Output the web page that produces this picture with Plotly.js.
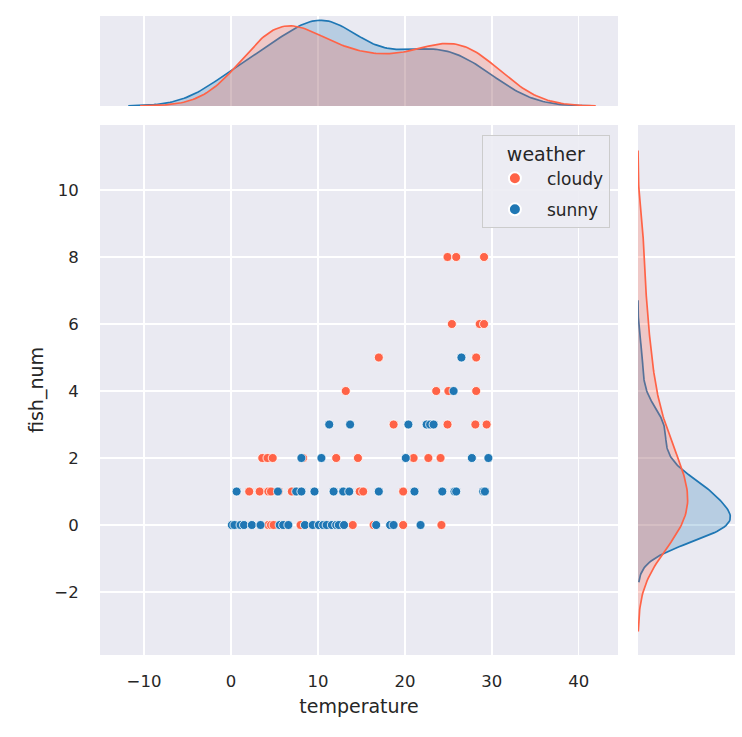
<!DOCTYPE html>
<html><head><meta charset="utf-8">
<script src="https://cdn.plot.ly/plotly-3.0.1.min.js"></script>
<style>body{margin:0;background:#fff}</style>
</head><body><div id="chart" style="width:742px;height:737px"></div>
<script>
const categories = ['cloudy', 'sunny'];
const colors = {cloudy: '#ff6347', sunny: '#1f77b4'};
const fills = {cloudy: 'rgba(255,99,71,0.25)', sunny: 'rgba(31,119,180,0.25)'};

const cloudyTemp = [4.3, 4.6, 4.9, 5.7, 6.2, 6.3, 8.0, 8.6, 9.5, 10.8, 11.0, 14.0, 16.4, 19.8, 24.2,
  2.1, 3.3, 4.3, 4.6, 5.5, 7.0, 7.6, 14.8, 15.2, 19.8,
  3.6, 4.2, 4.8, 8.3, 12.1, 14.6, 21.0, 22.7, 24.1,
  18.7, 24.9, 28.1, 29.4,
  13.2, 23.6, 25.0, 28.2,
  17.0, 28.2,
  25.4, 28.6, 29.1,
  24.9, 25.9, 29.1];
const cloudyFish = [0, 0, 0, 0, 0, 0, 0, 0, 0, 0, 0, 0, 0, 0, 0,
  1, 1, 1, 1, 1, 1, 1, 1, 1, 1,
  2, 2, 2, 2, 2, 2, 2, 2, 2,
  3, 3, 3, 3,
  4, 4, 4, 4,
  5, 5,
  6, 6, 6,
  8, 8, 8];
const sunnyTemp = [0.1, 0.4, 1.1, 1.5, 2.4, 3.4, 5.6, 6.0, 6.6, 8.5, 9.4, 10.1, 10.6, 11.0, 11.6, 12.1, 12.4, 13.0, 16.7, 18.3, 18.7, 21.8,
  0.65, 5.4, 7.5, 8.1, 9.6, 11.8, 12.9, 13.6, 17.0, 21.1, 24.3, 25.7, 25.9, 29.0, 29.2,
  8.1, 10.4, 20.1, 27.7, 29.6,
  11.3, 13.7, 20.4, 22.5, 22.9, 23.3,
  25.6,
  26.5];
const sunnyFish = [0, 0, 0, 0, 0, 0, 0, 0, 0, 0, 0, 0, 0, 0, 0, 0, 0, 0, 0, 0, 0, 0,
  1, 1, 1, 1, 1, 1, 1, 1, 1, 1, 1, 1, 1, 1, 1,
  2, 2, 2, 2, 2,
  3, 3, 3, 3, 3, 3,
  4,
  5];
const xTicks = [-10, 0, 10, 20, 30, 40];
const yTicks = [-2, 0, 2, 4, 6, 8, 10];

const nTotal = cloudyTemp.length + sunnyTemp.length;

function kde(data) {
  const n = data.length;
  const mean = data.reduce((a, b) => a + b, 0) / n;
  const v = data.reduce((a, b) => a + (b - mean) * (b - mean), 0) / (n - 1);
  const bw = Math.sqrt(v) * Math.pow(n, -0.2);
  const lo = Math.min(...data) - 3 * bw, hi = Math.max(...data) + 3 * bw;
  const g = [], d = [];
  for (let i = 0; i < 200; i++) {
    const x = lo + (hi - lo) * i / 199;
    let s = 0;
    for (const p of data) { const z = (x - p) / bw; s += Math.exp(-0.5 * z * z); }
    g.push(x);
    d.push(s / (n * bw * Math.sqrt(2 * Math.PI)) * n / nTotal);
  }
  return {g, d};
}

const groups = {
  cloudy: {t: cloudyTemp, f: cloudyFish},
  sunny: {t: sunnyTemp, f: sunnyFish}
};
const kT = {}, kF = {};
for (const c of categories) { kT[c] = kde(groups[c].t); kF[c] = kde(groups[c].f); }
const maxT = Math.max(...categories.map(c => Math.max(...kT[c].d)));
const maxF = Math.max(...categories.map(c => Math.max(...kF[c].d)));

const traces = [];
for (const c of ['sunny', 'cloudy']) {
  traces.push({type: 'scatter', mode: 'lines', x: kT[c].g, y: kT[c].d, xaxis: 'x', yaxis: 'y2',
    fill: 'tozeroy', fillcolor: fills[c], line: {color: colors[c], width: 1.7}, showlegend: false, hoverinfo: 'skip'});
  traces.push({type: 'scatter', mode: 'lines', x: kF[c].d, y: kF[c].g, xaxis: 'x3', yaxis: 'y',
    fill: 'tozerox', fillcolor: fills[c], line: {color: colors[c], width: 1.7}, showlegend: false, hoverinfo: 'skip'});
}
categories.forEach((c, i) => {
  traces.push({type: 'scatter', mode: 'markers', name: c, x: groups[c].t, y: groups[c].f,
    xaxis: 'x', yaxis: 'y', legendrank: i + 1, legendgroup: c,
    marker: {color: colors[c], size: 9, line: {color: '#ffffff', width: 0.8}}});
});

const ff = 'DejaVu Sans, sans-serif';
const font = {family: ff, size: 16.5, color: '#262626'};
const gridAxis = {showgrid: true, gridcolor: '#ffffff', gridwidth: 1.3, zeroline: false, showline: false,
  ticks: 'outside', tickcolor: 'rgba(0,0,0,0)', tickfont: font};

const layout = {
  width: 742, height: 737,
  margin: {l: 100, r: 7, t: 16, b: 82},
  paper_bgcolor: '#ffffff', plot_bgcolor: '#EAEAF2',
  font: font,
  showlegend: true,
  xaxis: Object.assign({}, gridAxis, {domain: [0, 0.8157], anchor: 'y', range: [-15.06, 44.5], ticklen: 11,
    tickmode: 'array', tickvals: xTicks, ticktext: xTicks.map(v => v < 0 ? '\u2212' + Math.abs(v) : String(v)),
    automargin: true,
    title: {text: 'temperature', font: {family: ff, size: 19, color: '#262626'}, standoff: 9}}),
  yaxis: Object.assign({}, gridAxis, {domain: [0, 0.8294], anchor: 'x', range: [-3.88, 11.94], ticklen: 17,
    tickmode: 'array', tickvals: yTicks, ticktext: yTicks.map(v => v < 0 ? '\u2212' + Math.abs(v) : String(v)),
    automargin: true,
    title: {text: 'fish_num', font: {family: ff, size: 19, color: '#262626'}, standoff: 5}}),
  yaxis2: {domain: [0.8592, 1], anchor: 'x', range: [0, maxT * 1.05], showgrid: false, zeroline: false,
    showticklabels: false, showline: false, ticks: ''},
  xaxis3: {domain: [0.8472, 1], anchor: 'y', range: [0, maxF * 1.05], showgrid: false, zeroline: false,
    showticklabels: false, showline: false, ticks: ''},
  legend: {x: 0.803, xanchor: 'right', y: 0.8138, yanchor: 'top',
    bgcolor: 'rgba(236,236,243,0.9)', bordercolor: '#cccccc', borderwidth: 1,
    font: {family: ff, size: 17, color: '#262626'},
    traceorder: 'grouped', tracegroupgap: 6, itemwidth: 54,
    title: {text: 'weather', side: 'top center', font: {family: ff, size: 19, color: '#262626'}},
    itemsizing: 'constant'}
};

Plotly.newPlot('chart', traces, layout, {displayModeBar: false, staticPlot: true});
</script></body></html>
